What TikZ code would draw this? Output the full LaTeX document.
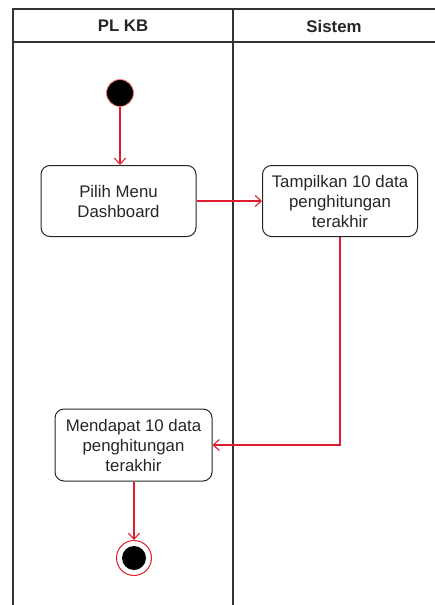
\documentclass[tikz,border=0pt]{standalone}
\usepackage{fontspec}
\setmainfont{Liberation Sans}
\usetikzlibrary{arrows.meta}
\definecolor{flowred}{RGB}{222,30,48}
\begin{document}
\begin{tikzpicture}[x=1pt,y=-1pt, >={Straight Barb[length=6pt,width=11pt]},
  act/.style={draw=black!85, rounded corners=9pt, minimum width=155pt, minimum height=71pt,
    align=center, line width=1pt, text=black!85, font=\fontsize{16.8}{20}\selectfont},
  flow/.style={draw=flowred, line width=1.1pt, ->}]
\useasboundingbox (0,0) rectangle (435,605);
% swimlanes
\draw[line width=1.2pt, black!80] (13,605) -- (13,9) -- (435,9);
\draw[line width=1.2pt, black!80] (13,42) -- (435,42);
\draw[line width=1.2pt, black!80] (233,9) -- (233,605);
\node[font=\fontsize{16.8}{20}\selectfont\bfseries, text=black!85] (laneA) at (123,26) {PL KB};
\node[font=\fontsize{16.8}{20}\selectfont\bfseries, text=black!85] (laneB) at (334,26) {Sistem};
% activities
\node[circle, fill=black, draw=red!50, line width=0.8pt, minimum size=27pt, inner sep=0pt] (start) at (120,93) {};
\node[act] (pilih) at (118.5,201) {Pilih Menu\\Dashboard};
\node[act] (tampil) at (340,201) {Tampilkan 10 data\\penghitungan\\terakhir};
\node[act, minimum width=157pt, minimum height=72pt] (dapat) at (133.5,445) {Mendapat 10 data\\penghitungan\\terakhir};
\node[circle, draw=flowred, line width=1pt, minimum size=35pt, inner sep=0pt] (stop) at (134,558) {};
\node[circle, fill=black, minimum size=24pt, inner sep=0pt] (stopdot) at (stop) {};
% flows
\draw[flow] (start.south) -- (start.south |- pilih.north);
\draw[flow] (pilih) -- (tampil);
\draw[flow] (tampil) |- (dapat);
\draw[flow] (dapat.south -| stop) -- (stop);
\end{tikzpicture}
\end{document}
